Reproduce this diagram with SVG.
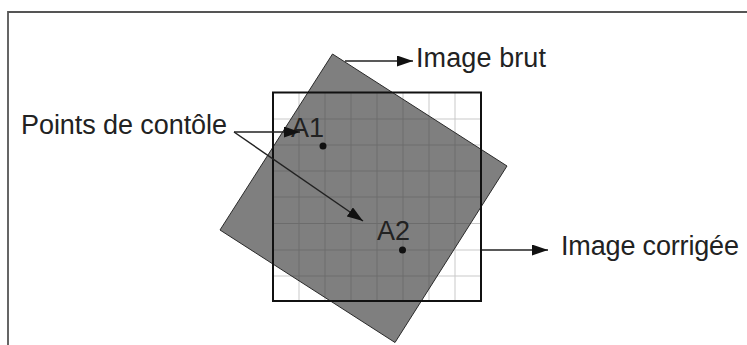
<svg xmlns="http://www.w3.org/2000/svg" width="747" height="345" viewBox="0 0 747 345">
<style>
.lbl{font-family:"Liberation Sans",Arial,sans-serif;font-size:27px;fill:#222}
.grid line{stroke:#c9c9c9;stroke-width:1}
.conn line{stroke:#222;stroke-width:1.5;fill:none}
</style>
<defs>
<marker id="ah" viewBox="0 0 16 11" refX="16" refY="5.5" markerWidth="16" markerHeight="11" markerUnits="userSpaceOnUse" orient="auto">
<path d="M0,0 L16,5.5 L0,11 z" fill="#111"/>
</marker>
</defs>
<rect width="747" height="345" fill="#fff"/>
<path d="M8,345 V12 H747" fill="none" stroke="#555" stroke-width="1.8"/>
<g id="image-corrigee">
<rect x="273" y="92.5" width="208" height="208.5" fill="#fff"/>
<g class="grid">
<line x1="299" y1="92.5" x2="299" y2="301"/>
<line x1="325" y1="92.5" x2="325" y2="301"/>
<line x1="351" y1="92.5" x2="351" y2="301"/>
<line x1="377" y1="92.5" x2="377" y2="301"/>
<line x1="403" y1="92.5" x2="403" y2="301"/>
<line x1="429" y1="92.5" x2="429" y2="301"/>
<line x1="455" y1="92.5" x2="455" y2="301"/>
<line x1="273" y1="119" x2="481" y2="119"/>
<line x1="273" y1="145" x2="481" y2="145"/>
<line x1="273" y1="171" x2="481" y2="171"/>
<line x1="273" y1="197" x2="481" y2="197"/>
<line x1="273" y1="223.5" x2="481" y2="223.5"/>
<line x1="273" y1="250" x2="481" y2="250"/>
<line x1="273" y1="276" x2="481" y2="276"/>
</g>
</g>
<g id="image-brut">
<polygon points="332.5,54 507,166 395,342.5 220,230" fill="#3a3a3a" fill-opacity="0.65" stroke="#2a2a2a" stroke-width="1"/>
</g>
<rect x="273" y="92.5" width="208" height="208.5" fill="none" stroke="#111" stroke-width="2"/>
<g id="A1">
<circle cx="323" cy="146" r="3.5" fill="#111"/>
<text class="lbl" x="291" y="137">A1</text>
</g>
<g id="A2">
<circle cx="402.5" cy="250" r="3.5" fill="#111"/>
<text class="lbl" x="377" y="240">A2</text>
</g>
<g id="label-points">
<text class="lbl" x="21" y="134" textLength="206" lengthAdjust="spacing">Points de contôle</text>
</g>
<g id="label-brut">
<text class="lbl" x="416" y="67" textLength="130" lengthAdjust="spacing">Image brut</text>
</g>
<g id="label-corrigee">
<text class="lbl" x="561" y="255" textLength="178" lengthAdjust="spacing">Image corrigée</text>
</g>
<g class="conn" id="connectors">
<line x1="345" y1="61" x2="413" y2="61" marker-end="url(#ah)"/>
<line x1="482" y1="250" x2="548" y2="250" marker-end="url(#ah)"/>
<line x1="234" y1="132" x2="300" y2="132" marker-end="url(#ah)"/>
<line x1="234" y1="132" x2="363" y2="221" marker-end="url(#ah)"/>
</g>
</svg>
